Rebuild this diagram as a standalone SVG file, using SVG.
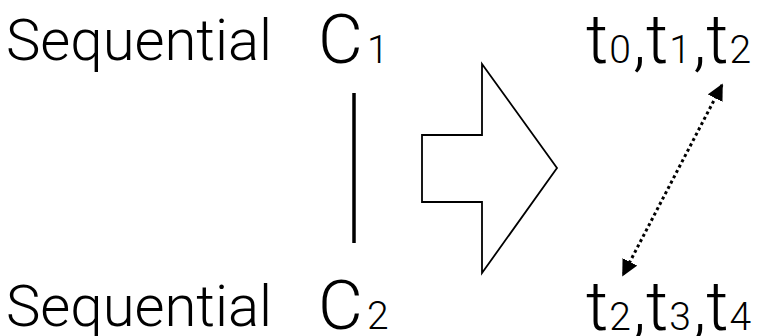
<svg xmlns="http://www.w3.org/2000/svg" width="762" height="336" viewBox="0 0 762 336">
<style>
text{font-family:Roboto,"Liberation Sans",Arial,sans-serif;font-weight:300;fill:#000}
.big{font-size:58px}
.cap{font-size:69px}
.sub{font-size:39px}
</style>
<defs>
<marker id="ah" viewBox="0 0 10 10" refX="9" refY="5" markerWidth="5.5" markerHeight="5.5" orient="auto-start-reverse" markerUnits="strokeWidth">
<path d="M0,0 L10,5 L0,10 z" fill="#000"/>
</marker>
</defs>
<rect width="762" height="336" fill="#fff"/>
<g id="seq1"><text class="big" x="6" y="60" textLength="266">Sequential</text></g>
<g id="c1"><text x="318" y="63"><tspan class="cap">C</tspan><tspan class="sub" x="367">1</tspan></text></g>
<g id="seq2"><text class="big" x="6" y="326" textLength="266">Sequential</text></g>
<g id="c2"><text x="318" y="329"><tspan class="cap">C</tspan><tspan class="sub" x="367">2</tspan></text></g>
<g id="bigarrow"><polygon points="482,64 557,168 482,273 482,202 422,202 422,135 482,135" fill="#fff" stroke="#000" stroke-width="1.8" stroke-linejoin="miter"/></g>
<g id="top-t"><text x="586" y="63"><tspan class="cap">t</tspan><tspan class="sub" dx="1">0</tspan><tspan class="cap" dx="2">,t</tspan><tspan class="sub" dx="1">1</tspan><tspan class="cap" dx="2">,t</tspan><tspan class="sub" dx="1">2</tspan></text></g>
<g id="bot-t"><text x="586" y="330"><tspan class="cap">t</tspan><tspan class="sub" dx="1">2</tspan><tspan class="cap" dx="2">,t</tspan><tspan class="sub" dx="1">3</tspan><tspan class="cap" dx="2">,t</tspan><tspan class="sub" dx="1">4</tspan></text></g>
<g id="connectors">
<line x1="354" y1="93" x2="354" y2="243" stroke="#000" stroke-width="3.5"/>
<line x1="722" y1="85" x2="623" y2="275" stroke="#000" stroke-width="3" stroke-dasharray="3 3" marker-start="url(#ah)" marker-end="url(#ah)"/>
</g>
</svg>
